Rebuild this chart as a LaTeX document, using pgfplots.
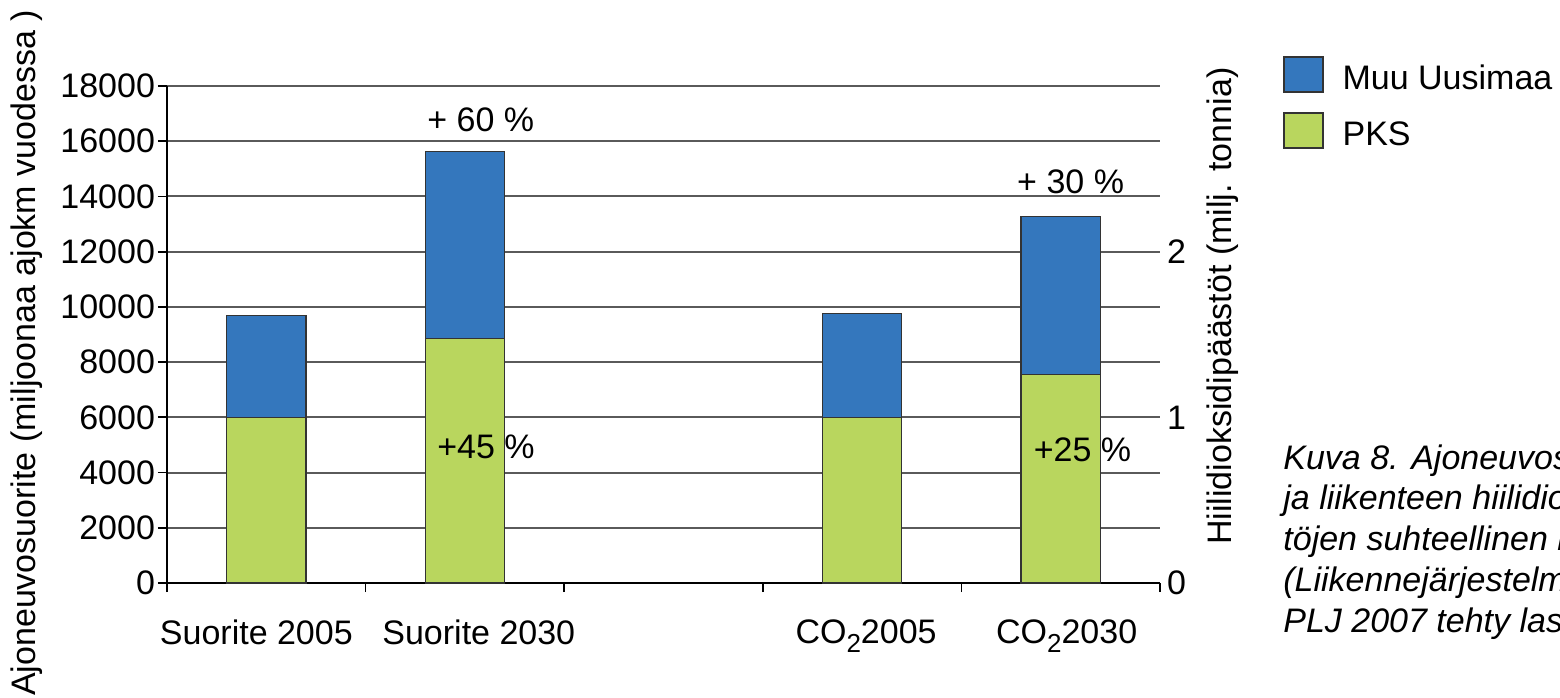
\documentclass[border=0pt]{standalone}
\usepackage{fontspec}
\setmainfont{Liberation Sans}
\usepackage{pgfplots}
\pgfplotsset{compat=1.18}

\definecolor{muu}{RGB}{52,119,189}
\definecolor{pks}{RGB}{185,214,94}
\definecolor{edge}{RGB}{51,51,51}
\definecolor{gridc}{RGB}{90,90,90}

\newcommand{\cotwo}{CO\raisebox{-4.5pt}{\fontsize{13}{13}\selectfont 2}}

\begin{document}
\begin{tikzpicture}[font=\fontsize{17}{20.3}\selectfont]
% vasen akseli: ajoneuvosuorite
\begin{axis}[
	at={(83.5pt,57pt)}, anchor=south west,
	scale only axis, width=496.5pt, height=248.5pt,
	xmin=-0.5, xmax=4.5, ymin=0, ymax=18000,
	axis x line*=bottom, axis y line*=left,
	axis line style={black, line width=0.9pt},
	tick align=outside, major tick length=4.5pt,
	tick style={black, line width=0.9pt},
	ybar stacked, bar width=0.4,
	xtick={-0.5,0.5,...,4.5}, xticklabels={},
	extra x ticks={-0.05,1.07,3.02,4.03},
	extra x tick labels={Suorite 2005,Suorite 2030,\cotwo2005,\cotwo2030},
	extra x tick style={major tick length=0pt},
	xticklabel style={yshift=-15pt},
	ytick={0,2000,...,18000},
	scaled y ticks=false,
	yticklabel style={/pgf/number format/1000 sep={}, xshift=2pt},
	/pgf/number format/assume math mode=true,
	ymajorgrids, grid style={gridc, line width=1pt},
	every axis y label/.style={at={(axis description cs:-0.141,0.463)}, anchor=center, rotate=90},
	ylabel={Ajoneuvosuorite (miljoonaa ajokm vuodessa )},
	every axis plot post/.append style={legend image code/.code={%
		\draw[#1, line width=0.8pt] (0pt,-0.9pt) rectangle (19.5pt,16.6pt);}},
	reverse legend,
	legend style={at={(axis description cs:1.1239,1.0604)}, anchor=north west,
		draw=none, fill=none, inner sep=0pt, outer sep=0pt,
		row sep=7.5pt, column sep=7.5pt,
		cells={anchor=base west, inner sep=0pt}},
]
\addplot[fill=pks, draw=edge, line width=0.6pt] coordinates {(0,6000) (1,8850) (3,6000) (4,7550)};
\addplot[fill=muu, draw=edge, line width=0.6pt] coordinates {(0,3690) (1,6790) (3,3760) (4,5710)};
\legend{PKS,Muu Uusimaa}

\coordinate (p60) at (axis cs:1.08,16770);
\coordinate (p45) at (axis cs:1.106,4925);
\coordinate (p30) at (axis cs:4.05,14520);
\coordinate (p25) at (axis cs:4.11,4815);
\end{axis}

% oikea akseli: hiilidioksidipäästöt
\begin{axis}[
	at={(83.5pt,57pt)}, anchor=south west,
	scale only axis, width=496.5pt, height=248.5pt,
	xmin=-0.5, xmax=4.5, ymin=0, ymax=3,
	axis x line=none, axis y line*=right,
	y axis line style={draw=none},
	major tick length=0pt,
	ytick={0,1,2},
	/pgf/number format/assume math mode=true,
	every axis y label/.style={at={(axis description cs:1.0634,0.557)}, anchor=center, rotate=90},
	ylabel={Hiilidioksidipäästöt (milj. tonnia)},
]
\end{axis}

% muutosprosentit pylväiden päälle
\node at (p60) {+ 60 \%};
\node at (p45) {+45 \%};
\node at (p30) {+ 30 \%};
\node at (p25) {+25 \%};

% kuvateksti (leikkautuu kuvan reunaan)
\begin{scope}[every node/.style={anchor=base west, inner sep=0pt, font=\fontsize{17}{20.3}\selectfont\itshape}]
\node at (641.5pt,113.5pt) {Kuva 8. Ajoneuvosuoritteen};
\node at (641.5pt,93.5pt) {ja liikenteen hiilidioksidipääs-};
\node at (641.5pt,73.2pt) {töjen suhteellinen kasvu};
\node at (641.5pt,52.7pt) {(Liikennejärjestelmäsuunnitelma};
\node at (641.5pt,32pt) {PLJ 2007 tehty laskelma)};
\end{scope}

\pgfresetboundingbox
\useasboundingbox (0,0) rectangle (780pt,348.5pt);
\end{tikzpicture}
\end{document}
